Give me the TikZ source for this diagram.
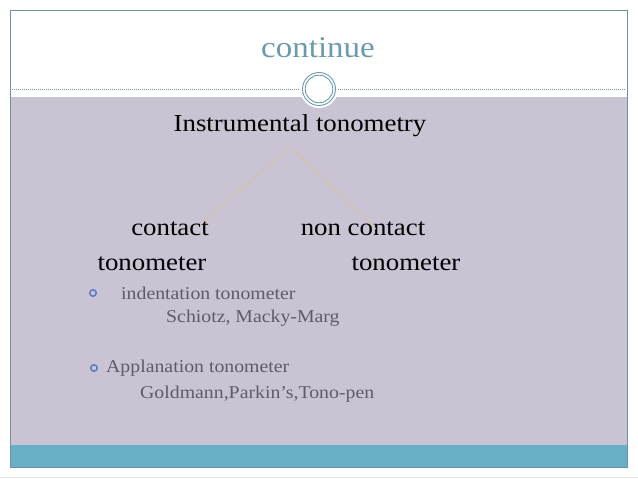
\documentclass[tikz,border=0pt]{standalone}
\usepackage{fontspec}
\setmainfont[FakeStretch=1.1]{Liberation Serif}
\usepackage{tikz}
\usetikzlibrary{positioning,calc}
\definecolor{slilac}{HTML}{C9C3D3}
\definecolor{sbar}{HTML}{6AAFC8}
\definecolor{sframe}{HTML}{6C93A3}
\definecolor{stitle}{HTML}{6A9BAD}
\definecolor{sgray}{HTML}{5F5B69}
\definecolor{sbullet}{HTML}{5B7CC0}
\definecolor{stan}{HTML}{D6C39C}
\tikzset{
  bigtxt/.style  = {inner sep=0pt, font=\fontsize{24.4}{28}\selectfont, text=black},
  subtxt/.style  = {inner sep=0pt, font=\fontsize{18}{22}\selectfont, text=sgray, anchor=west},
  bullet/.style  = {draw=sbullet, line width=1.5pt, circle, inner sep=0pt, minimum size=6.5pt},
  branch/.style  = {stan, line width=0.9pt},
}
\begin{document}
\begin{tikzpicture}[x=1pt,y=-1pt]
\useasboundingbox (0,0) rectangle (638,479);
% slide background
\fill[white] (0,0) rectangle (638,479);
\fill[slilac] (10,97) rectangle (627,445);
\fill[sbar] (10,445) rectangle (627,467);
\draw[sframe, line width=0.6pt] (10,10) rectangle (627,467);
\draw[black!10, line width=1pt] (0,477.5) -- (638,477.5);
% title and ring
\node[inner sep=0pt, font=\fontsize{30}{34}\selectfont, text=stitle] (title) at (318,48) {continue};
\draw[sframe, dashed, dash pattern=on 1.2pt off 0.8pt, line width=0.5pt] (12,89) -- (625,89);
\fill[white] (319,89) circle (19);
\node[draw=stitle, line width=0.9pt, circle, inner sep=0pt, minimum size=33pt] (ring) at (319,89) {};
\draw[stitle, line width=0.9pt] (ring.center) circle (13.8);
% tree
\node[bigtxt] (root) at (300,126) {Instrumental tonometry};
\node[bigtxt] (contact) at (170,229) {contact};
\node[bigtxt] (tonoL) at (152,264) {tonometer};
\node[bigtxt] (noncontact) at (363,229) {non contact};
\node[bigtxt] (tonoR) at (406,264) {tonometer};
\coordinate (forkL) at (289,148);
\coordinate (forkR) at (292,148);
\coordinate (endL) at (202,222);
\coordinate (endR) at (376,229);
\draw[branch] (forkL) -- (endL);
\draw[branch] (forkR) -- (endR);
% bullet list
\node[bullet] (b1) at (93,293) {};
\node[subtxt] (indent) at (121,293) {indentation tonometer};
\node[subtxt] (schiotz) at (166,318) {Schiotz, Macky-Marg};
\node[bullet] (b2) at (94,368) {};
\node[subtxt] (applan) at (106,368) {Applanation tonometer};
\node[subtxt] (goldmann) at (140,394) {Goldmann,Parkin’s,Tono-pen};
\end{tikzpicture}
\end{document}
